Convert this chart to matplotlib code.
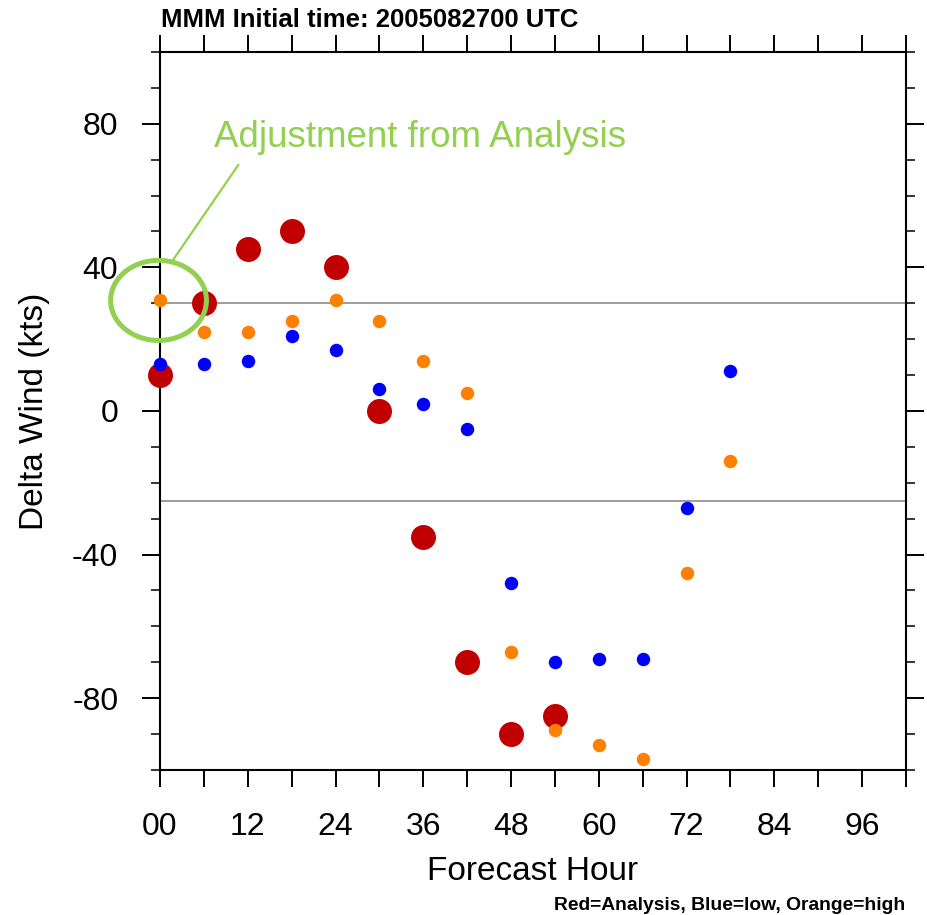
import matplotlib
matplotlib.use('Agg')
import matplotlib.pyplot as plt
from matplotlib.patches import Ellipse
from matplotlib.ticker import FixedLocator, MultipleLocator

plt.rcParams['font.family'] = ['Liberation Sans', 'DejaVu Sans']
plt.rcParams['axes.unicode_minus'] = False

#### DATA ####
# analysis run, forecast hours 00-54
hoursAnalysis = [0, 6, 12, 18, 24, 30, 36, 42, 48, 54]
deltaAnalysis = [10, 30, 45, 50, 40, 0, -35, -70, -90, -85]

# low / high members, forecast hours 00-78
hoursMember = [0, 6, 12, 18, 24, 30, 36, 42, 48, 54, 60, 66, 72, 78]
deltaLow = [13, 13, 14, 21, 17, 6, 2, -5, -48, -70, -69, -69, -27, 11]
deltaHigh = [31, 22, 22, 25, 31, 25, 14, 5, -67, -89, -93, -97, -45, -14]

xTicks = [0, 12, 24, 36, 48, 60, 72, 84, 96]
xTickLabels = ['00', '12', '24', '36', '48', '60', '72', '84', '96']
yTicks = [-80, -40, 0, 40, 80]
refLines = [30, -25]

#### COLORS ####
red = '#c00000'
blue = '#0000ff'
orange = '#ff8000'
green = '#92d050'

fig = plt.figure(figsize=(9.28, 9.15), dpi=100)
ax = fig.add_axes([0.1724, 0.1585, 0.8039, 0.7847])

ax.set_xlim(0, 102)
ax.set_ylim(-100, 100)

for v in refLines:
    ax.axhline(v, color='#8c8c8c', lw=1.2, zorder=1)

ax.scatter(hoursAnalysis, deltaAnalysis, s=324, c=red, linewidths=0, zorder=3, clip_on=False)
ax.scatter(hoursMember, deltaHigh, s=94, c=orange, linewidths=0, zorder=4, clip_on=False)
ax.scatter(hoursMember, deltaLow, s=94, c=blue, linewidths=0, zorder=5, clip_on=False)

# ticks on all four sides, pointing out
ax.xaxis.set_major_locator(FixedLocator(xTicks))
ax.set_xticklabels(xTickLabels)
ax.xaxis.set_minor_locator(MultipleLocator(6))
ax.yaxis.set_major_locator(FixedLocator(yTicks))
ax.yaxis.set_minor_locator(MultipleLocator(10))
ax.tick_params(which='both', direction='out', top=True, right=True,
               labeltop=False, labelright=False, color='black')
ax.tick_params(axis='x', which='both', length=12.5, width=1.4)
ax.tick_params(axis='x', which='major', labelsize=23, pad=18)
ax.tick_params(axis='y', which='major', length=13, width=1.4, labelsize=23, pad=17)
ax.tick_params(axis='y', which='minor', length=6.5, width=1.1)
for sp in ax.spines.values():
    sp.set_linewidth(1.5)

ax.set_xlabel('Forecast Hour', fontsize=24)
ax.xaxis.set_label_coords(0.5, -0.12)
ax.set_ylabel('Delta Wind (kts)', fontsize=24)
ax.yaxis.set_label_coords(-0.147, 0.5)

# callout round the 00h adjustment
ax.add_patch(Ellipse((-0.2, 30.8), width=13.1, height=22.3, fill=False,
                     ec=green, lw=3.6, clip_on=False, zorder=6))
ax.plot([1.8, 10.7], [42.1, 68.5], color=green, lw=1.6, clip_on=False, zorder=6)
ax.text(7.33, 73.6, 'Adjustment from Analysis', color=green, fontsize=26.5,
        va='baseline', ha='left', zorder=6)

fig.text(161 / 928, 1 - 27 / 915, 'MMM Initial time: 2005082700 UTC',
         fontsize=18.5, fontweight='bold', ha='left', va='baseline')
fig.text(905 / 928, 1 - 910 / 915, 'Red=Analysis, Blue=low, Orange=high',
         fontsize=13.9, fontweight='bold', ha='right', va='baseline')

fig.savefig('out.png', dpi=100)
